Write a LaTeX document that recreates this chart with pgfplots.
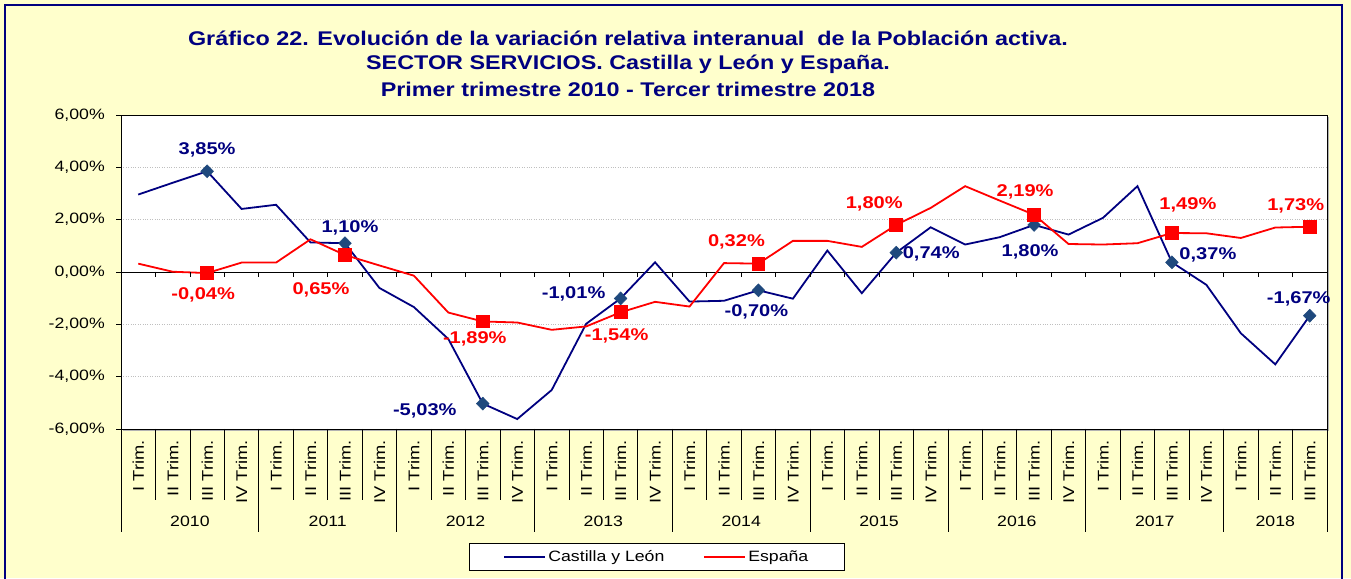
\documentclass[border=0pt]{standalone}
\usepackage{fontspec}
\setmainfont{Liberation Sans}[FakeStretch=1.18]
\usepackage{pgfplots}
\pgfplotsset{compat=1.18}

\definecolor{bgyellow}{HTML}{FFFFCC}
\definecolor{navyt}{HTML}{000080}
\definecolor{mblue}{HTML}{1F497D}
\definecolor{esred}{HTML}{FF0000}

\newcommand{\fs}[1]{\fontsize{#1}{#1}\selectfont}

\begin{document}
\begin{tikzpicture}
\useasboundingbox (0,0) rectangle (1351pt,578pt);
\fill[bgyellow] (0,0) rectangle (1351pt,578pt);
\draw[navyt, line width=2.5pt] (5pt,-10pt) rectangle (1342pt,573pt);

% titulo
\node[anchor=base, text=navyt, font=\fs{19.8}\bfseries] at (628pt,532pt)
  {Gráfico 22. Evolución de la variación relativa interanual\ \ de la Población activa.};
\node[anchor=base, text=navyt, font=\fs{19.8}\bfseries] at (628pt,508pt)
  {SECTOR SERVICIOS. Castilla y León y España.};
\node[anchor=base, text=navyt, font=\fs{19.8}\bfseries] at (628pt,481pt)
  {Primer trimestre 2010 - Tercer trimestre 2018};

% sombra del area de trazado
\fill[gray!60] (123pt,147pt) rectangle (1329pt,461pt);

\begin{axis}[
  at={(121pt,149pt)}, anchor=south west,
  scale only axis, width=1206pt, height=314pt,
  xmin=-0.5, xmax=34.5, ymin=-6, ymax=6,
  axis background/.style={fill=white},
  axis line style={black, line width=0.9pt},
  clip=false,
  tick align=outside, major tick length=5pt,
  tick style={black, line width=0.8pt},
  ytick={-6,-4,...,6},
  yticklabels={{-6,00\%},{-4,00\%},{-2,00\%},{0,00\%},{2,00\%},{4,00\%},{6,00\%}},
  ytick pos=left,
  yticklabel shift=11pt,
  y tick label style={inner sep=0pt, font=\fs{15}},
  ymajorgrids, grid style={gray!50, dotted, line width=0.7pt},
  xtick={0,...,34},
  xticklabels={I Trim.,II Trim.,III Trim.,IV Trim.,I Trim.,II Trim.,III Trim.,IV Trim.,
    I Trim.,II Trim.,III Trim.,IV Trim.,I Trim.,II Trim.,III Trim.,IV Trim.,
    I Trim.,II Trim.,III Trim.,IV Trim.,I Trim.,II Trim.,III Trim.,IV Trim.,
    I Trim.,II Trim.,III Trim.,IV Trim.,I Trim.,II Trim.,III Trim.,IV Trim.,
    I Trim.,II Trim.,III Trim.},
  xtick pos=bottom,
  major x tick style={draw=none},
  xticklabel shift=6pt,
  x tick label style={rotate=90, anchor=east, inner sep=0pt, font=\fs{15.5}},
  legend columns=2,
  legend style={at={(0.4444,-0.4076)}, anchor=center, draw=black, fill=white,
    line width=0.8pt, font=\fs{15}, inner xsep=34pt, inner ysep=5pt,
    /tikz/every even column/.append style={column sep=37pt}},
  legend image code/.code={\draw[#1] (5pt,0pt) -- (46pt,0pt);},
]
\draw[black, line width=0.9pt] (axis cs:-0.5,0) -- (axis cs:34.5,0);

\addplot[navyt, line width=1.8pt, mark=diamond*, mark size=6.5pt,
  mark indices={3,7,11,15,19,23,27,31,35},
  mark options={fill=mblue, draw=mblue, xscale=1.3, line width=0.5pt}] coordinates {
  (0,2.96) (1,3.41) (2,3.85) (3,2.41) (4,2.57) (5,1.13) (6,1.10) (7,-0.61)
  (8,-1.34) (9,-2.56) (10,-5.03) (11,-5.62) (12,-4.51) (13,-1.98) (14,-1.01)
  (15,0.37) (16,-1.13) (17,-1.10) (18,-0.70) (19,-1.02) (20,0.82) (21,-0.81)
  (22,0.74) (23,1.71) (24,1.05) (25,1.33) (26,1.80) (27,1.43) (28,2.07)
  (29,3.28) (30,0.37) (31,-0.49) (32,-2.34) (33,-3.53) (34,-1.67)
};
\addlegendentry{Castilla y León}

\addplot[esred, line width=1.8pt, mark=square*, mark size=6pt,
  mark indices={3,7,11,15,19,23,27,31,35},
  mark options={fill=esred, draw=esred}] coordinates {
  (0,0.32) (1,0.01) (2,-0.04) (3,0.36) (4,0.36) (5,1.25) (6,0.65) (7,0.25)
  (8,-0.14) (9,-1.55) (10,-1.89) (11,-1.93) (12,-2.21) (13,-2.08) (14,-1.54)
  (15,-1.14) (16,-1.32) (17,0.34) (18,0.32) (19,1.19) (20,1.19) (21,0.96)
  (22,1.80) (23,2.45) (24,3.28) (25,2.73) (26,2.19) (27,1.07) (28,1.05)
  (29,1.10) (30,1.49) (31,1.48) (32,1.30) (33,1.70) (34,1.73)
};
\addlegendentry{España}

% etiquetas Castilla y Leon
\begin{scope}[every node/.style={font=\fs{17}\bfseries, text=navyt, inner sep=0pt}]
\node[xshift=0pt, yshift=21pt] at (axis cs:2,3.85) {3,85\%};
\node[xshift=5pt, yshift=15pt] at (axis cs:6,1.10) {1,10\%};
\node[xshift=-58pt, yshift=-7pt] at (axis cs:10,-5.03) {-5,03\%};
\node[xshift=-47pt, yshift=5pt] at (axis cs:14,-1.01) {-1,01\%};
\node[xshift=-2pt, yshift=-22pt] at (axis cs:18,-0.70) {-0,70\%};
\node[xshift=35pt, yshift=-1pt] at (axis cs:22,0.74) {0,74\%};
\node[xshift=-4pt, yshift=-27pt] at (axis cs:26,1.80) {1,80\%};
\node[xshift=36pt, yshift=7pt] at (axis cs:30,0.37) {0,37\%};
\node[xshift=-11pt, yshift=17pt] at (axis cs:34,-1.67) {-1,67\%};
\end{scope}
% etiquetas Espana
\begin{scope}[every node/.style={font=\fs{17}\bfseries, text=esred, inner sep=0pt}]
\node[xshift=-4pt, yshift=-22pt] at (axis cs:2,-0.04) {-0,04\%};
\node[xshift=-24pt, yshift=-35pt] at (axis cs:6,0.65) {0,65\%};
\node[xshift=-8pt, yshift=-17pt] at (axis cs:10,-1.89) {-1,89\%};
\node[xshift=-4pt, yshift=-24pt] at (axis cs:14,-1.54) {-1,54\%};
\node[xshift=-22pt, yshift=22pt] at (axis cs:18,0.32) {0,32\%};
\node[xshift=-22pt, yshift=21pt] at (axis cs:22,1.80) {1,80\%};
\node[xshift=-9pt, yshift=23pt] at (axis cs:26,2.19) {2,19\%};
\node[xshift=16pt, yshift=28pt] at (axis cs:30,1.49) {1,49\%};
\node[xshift=-14pt, yshift=21pt] at (axis cs:34,1.73) {1,73\%};
\end{scope}
\end{axis}

% marcas del eje cero
\foreach \k in {1,...,34} {
  \draw[black, line width=0.8pt] ({(121+34.457*\k)*1pt},306pt) -- ({(121+34.457*\k)*1pt},301pt);
}
% separadores de trimestres y años
\foreach \k in {0,...,35} {
  \draw[black, line width=0.8pt] ({(121+34.457*\k)*1pt},149pt) -- ({(121+34.457*\k)*1pt},78pt);
}
\foreach \k in {0,4,8,12,16,20,24,28,32,35} {
  \draw[black, line width=0.8pt] ({(121+34.457*\k)*1pt},149pt) -- ({(121+34.457*\k)*1pt},46pt);
}
\foreach \y/\c in {2010/2,2011/6,2012/10,2013/14,2014/18,2015/22,2016/26,2017/30,2018/33.5} {
  \node[font=\fs{15}, inner sep=0pt] at ({(121+34.457*\c)*1pt},57pt) {\y};
}
\end{tikzpicture}
\end{document}
